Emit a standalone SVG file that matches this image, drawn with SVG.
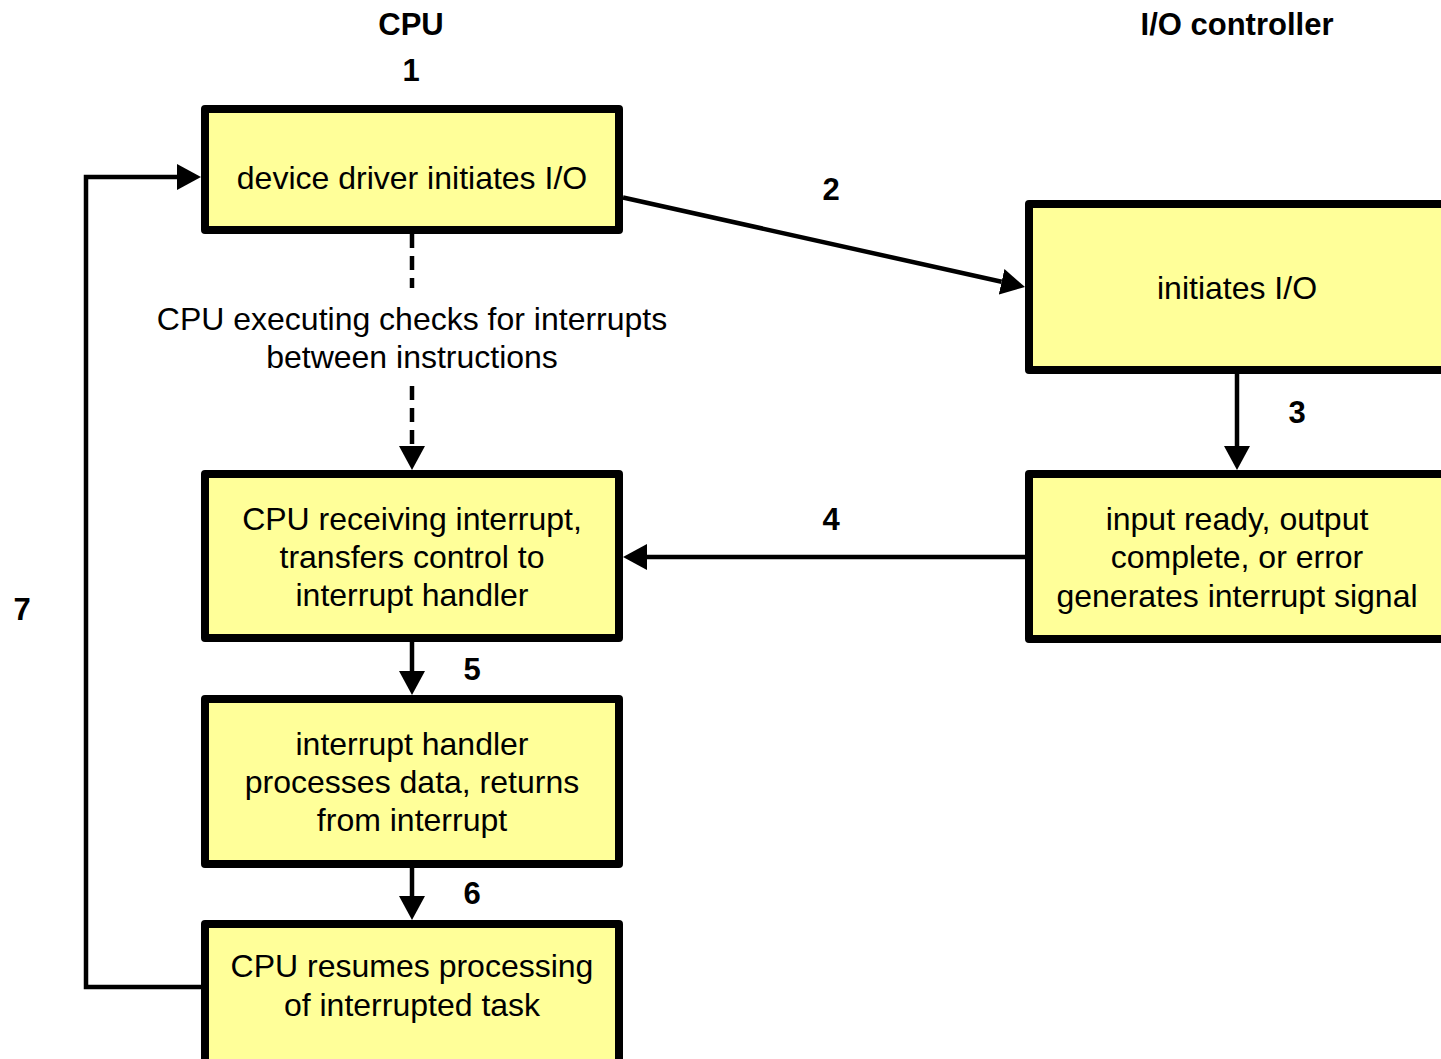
<svg xmlns="http://www.w3.org/2000/svg" width="1441" height="1059" viewBox="0 0 1441 1059">
<defs>
<style>
.box{fill:#FFFF99;stroke:#000;stroke-width:8;stroke-linejoin:round}
.t{font-family:"Liberation Sans",Arial,sans-serif;font-size:32px;fill:#000;text-anchor:middle}
.b{font-family:"Liberation Sans",Arial,sans-serif;font-size:31px;font-weight:bold;fill:#000;text-anchor:middle}
.c{fill:none;stroke:#000;stroke-width:4.5}
.d{stroke-dasharray:14 8}
</style>
<marker id="ah" viewBox="0 0 24 26" refX="0" refY="13" markerWidth="24" markerHeight="26" markerUnits="userSpaceOnUse" orient="auto">
<path d="M0,0 L24,13 L0,26 Z" fill="#000"/>
</marker>
</defs>
<rect width="1441" height="1059" fill="#fff"/>
<g id="headers">
<text class="b" x="411" y="35">CPU</text>
<text class="b" x="1237" y="35">I/O controller</text>
</g>
<g id="connectors">
<path class="c" d="M623,197.5 L1001.6,281.8" marker-end="url(#ah)"/>
<path class="c" d="M1237,374 V446" marker-end="url(#ah)"/>
<path class="c" d="M1025,557 H647" marker-end="url(#ah)"/>
<path class="c" d="M412,642 V671" marker-end="url(#ah)"/>
<path class="c" d="M412,868 V896" marker-end="url(#ah)"/>
<path class="c" d="M201,987 H86 V177 H177" marker-end="url(#ah)"/>
<path class="c d" d="M412,234 V288 M412,386 V446" marker-end="url(#ah)"/>
<text class="b" x="411" y="81">1</text>
<text class="b" x="831" y="200">2</text>
<text class="b" x="1297" y="423">3</text>
<text class="b" x="831" y="530">4</text>
<text class="b" x="472" y="680">5</text>
<text class="b" x="472" y="904">6</text>
<text class="b" x="22" y="620">7</text>
<text class="t" x="412" y="330">CPU executing checks for interrupts</text>
<text class="t" x="412" y="368">between instructions</text>
</g>
<g id="n1">
<rect class="box" x="205" y="109" width="414" height="121"/>
<text class="t" x="412" y="189">device driver initiates I/O</text>
</g>
<g id="n2">
<rect class="box" x="205" y="474" width="414" height="164"/>
<text class="t" x="412" y="530">CPU receiving interrupt,</text>
<text class="t" x="412" y="568">transfers control to</text>
<text class="t" x="412" y="606">interrupt handler</text>
</g>
<g id="n3">
<rect class="box" x="205" y="699" width="414" height="165"/>
<text class="t" x="412" y="755">interrupt handler</text>
<text class="t" x="412" y="793">processes data, returns</text>
<text class="t" x="412" y="831">from interrupt</text>
</g>
<g id="n4">
<rect class="box" x="205" y="924" width="414" height="200"/>
<text class="t" x="412" y="977">CPU resumes processing</text>
<text class="t" x="412" y="1016">of interrupted task</text>
</g>
<g id="nA">
<rect class="box" x="1029" y="204" width="416" height="166"/>
<text class="t" x="1237" y="299">initiates I/O</text>
</g>
<g id="nB">
<rect class="box" x="1029" y="474" width="416" height="165"/>
<text class="t" x="1237" y="530">input ready, output</text>
<text class="t" x="1237" y="568">complete, or error</text>
<text class="t" x="1237" y="607">generates interrupt signal</text>
</g>
</svg>
